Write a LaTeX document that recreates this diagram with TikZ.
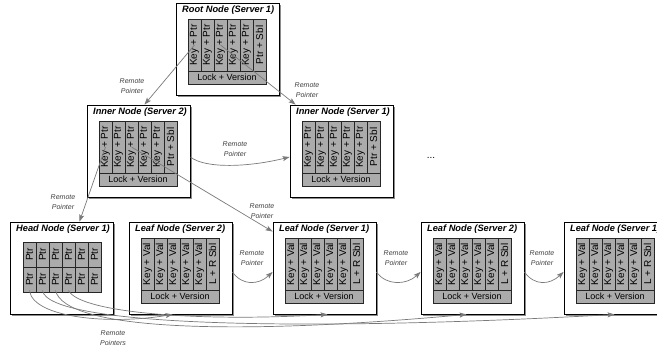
\documentclass[tikz,border=0pt]{standalone}
\usepackage{fontspec}
\setmainfont{Liberation Sans}
\usetikzlibrary{calc,arrows.meta,shadows}

\tikzset{
  box/.style={draw=black, line width=0.9pt, fill=white, minimum width=103pt,
    minimum height=92pt, inner sep=0pt,
    drop shadow={shadow xshift=1.6pt, shadow yshift=-1.6pt, opacity=0.45, fill=black}},
  boxtitle/.style={inner sep=0pt, font=\fontsize{9.25}{11}\selectfont\bfseries\itshape},
  cell/.style={draw=black!85, line width=0.6pt, fill=black!33, inner sep=0pt,
    font=\fontsize{10}{10}\selectfont},
  colcell/.style={cell, rotate=90, minimum width=52pt, minimum height=13pt},
  ptrcell/.style={cell, rotate=90, minimum width=25pt, minimum height=13pt},
  lockbar/.style={cell, minimum width=78pt, minimum height=13pt, font=\fontsize{9}{9}\selectfont},
  remark/.style={font=\fontsize{7}{9.5}\selectfont\itshape, text=black!75, align=center, inner sep=0pt},
  ptr/.style={draw=black!52, line width=0.7pt, -{Stealth[length=7pt,width=5pt,inset=1.5pt]}},
}

% #1 name, #2 left, #3 top, #4 title, #5 text of the first five columns, #6 last column
\newcommand\gridbox[6]{%
  \node[box] (#1) at ({#2+51.5},{#3+46}) {};
  \node[boxtitle, anchor=base west] (#1-t) at ({#2+6},{#3+10}) {#4};
  \foreach \k in {1,...,5} {
    \node[colcell] (#1-c\k) at ({#2+12+13*\k-6.5},{#3+42}) {#5};
  }
  \node[colcell] (#1-c6) at ({#2+12+13*6-6.5},{#3+42}) {#6};
  \node[lockbar] (#1-lk) at ({#2+51},{#3+74.5}) {Lock + Version};
}

\begin{document}
\begin{tikzpicture}[x=1pt,y=-1pt]
\useasboundingbox (0,0) rectangle (657,352);
\fill[white] (0,0) rectangle (657,352);
\clip (0,0) rectangle (657,352);

% upper levels
\gridbox{r}{176}{3}{Root Node (Server 1)}{Key + Ptr}{Ptr + Sbl}
\gridbox{i2}{87}{105}{Inner Node (Server 2)}{Key + Ptr}{Ptr + Sbl}
\gridbox{i1}{290}{105}{Inner Node (Server 1)}{Key + Ptr}{Ptr + Sbl}
\node[font=\fontsize{10}{10}\selectfont] (dots) at (431,158) {...};

% head node
\node[box] (hd) at (61.5,268) {};
\node[boxtitle, anchor=base west] (hd-t) at (16,232) {Head Node (Server 1)};
\foreach \k in {1,...,6} {
  \node[ptrcell] (hd-a\k) at ({23+13*\k-6.5},254.5) {Ptr};
  \node[ptrcell] (hd-b\k) at ({23+13*\k-6.5},279.5) {Ptr};
}

% leaf level
\gridbox{l0}{129}{222}{Leaf Node (Server 2)}{Key + Val}{L + R Sbl}
\gridbox{l1}{273}{222}{Leaf Node (Server 1)}{Key + Val}{L + R Sbl}
\gridbox{l2}{421}{222}{Leaf Node (Server 2)}{Key + Val}{L + R Sbl}
\gridbox{l3}{564}{222}{Leaf Node (Server 1)}{Key + Val}{L + R Sbl}

% labels
\node[remark] (n1) at (132,86) {Remote\\Pointer};
\node[remark] (n2) at (307,90) {Remote\\Pointer};
\node[remark] (n3) at (235,149) {Remote\\Pointer};
\node[remark] (n4) at (63,202) {Remote\\Pointer};
\node[remark] (n5) at (262,211) {Remote\\Pointer};
\node[remark] (n6) at (252,258) {Remote\\Pointer};
\node[remark] (n7) at (396,258) {Remote\\Pointer};
\node[remark] (n8) at (542,258) {Remote\\Pointer};
\node[remark] (n9) at (113,338) {Remote\\Pointers};

% tree pointers
\draw[ptr] (r-c1.center) -- ($(i2.north)+(6,0)$);
\draw[ptr] (r-c3.center) -- ($(i1.north west)+(6,0)$);
\draw[ptr] (i2-c1.center) -- ($(hd.north)+(18,0)$);
\draw[ptr] (i2-c3.center) -- ($(l1.north west)+(0,10)$);
\draw[ptr] ($(i2.east)+(0,6)$) .. controls ($(i2.east)+(15,18)$) and ($(i1.west)+(-40,16)$) .. ($(i1.west)+(0,6)$);

% sibling pointers
\draw[ptr] ($(l0.east)+(0,4)$) .. controls ($(l0.east)+(10,18)$) and ($(l1.west)+(-14,17)$) .. ($(l1.west)+(0,4)$);
\draw[ptr] ($(l1.east)+(0,4)$) .. controls ($(l1.east)+(10,18)$) and ($(l2.west)+(-14,17)$) .. ($(l2.west)+(0,4)$);
\draw[ptr] ($(l2.east)+(0,4)$) .. controls ($(l2.east)+(10,18)$) and ($(l3.west)+(-14,17)$) .. ($(l3.west)+(0,4)$);

% pointers from the head node
\draw[ptr] ($(hd-b1.center)+(0,11)$) .. controls (33,318) and (110,325) .. ($(l0.south west)+(44,0)$);
\draw[ptr] ($(hd-b4.center)+(0,11)$) .. controls (80,313) and (200,322) .. ($(l1.south west)+(55,0)$);
\draw[ptr] ($(hd-b3.center)+(0,11)$) .. controls (65,330) and (230,336) .. ($(l2.south west)+(46,0)$);
\draw[ptr] ($(hd-b2.center)+(0,11)$) .. controls (48,326) and (300,332) .. ($(l3.south west)+(51,0)$);
\end{tikzpicture}
\end{document}
